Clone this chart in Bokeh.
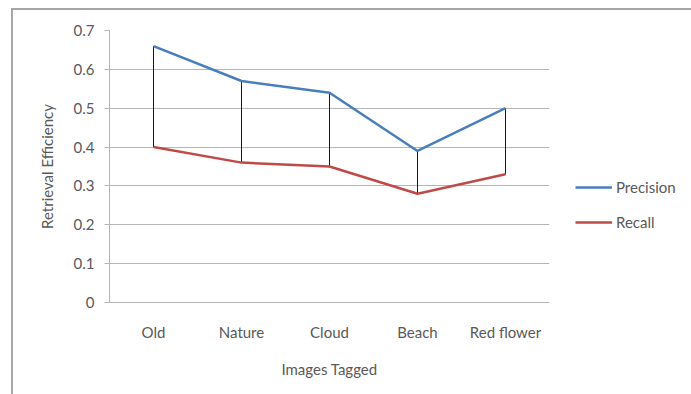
from bokeh.plotting import figure
from bokeh.models import (ColumnDataSource, FactorRange, Range1d, FixedTicker,
                          Legend, LegendItem, InlineStyleSheet)
from bokeh.embed import file_html
from bokeh.resources import INLINE

# Data
categories = ["Old", "Nature", "Cloud", "Beach", "Red flower"]
precision = [0.66, 0.57, 0.54, 0.39, 0.50]
recall = [0.40, 0.36, 0.35, 0.28, 0.33]
y_ticks = [0, 0.1, 0.2, 0.3, 0.4, 0.5, 0.6, 0.7]

FONT = "Lato"
TEXT_COLOR = "#595959"
GRID_COLOR = "#b5b5b5"
BLUE = "#4a7ebb"
RED = "#be4b48"

src = ColumnDataSource(dict(cat=categories, precision=precision, recall=recall))

# Thin grey frame around the chart area (top and left edges visible)
frame_css = InlineStyleSheet(css="""
:host { position: relative; }
:host::after {
  content: "";
  position: absolute;
  left: 11px; top: 8px; right: 0; bottom: 0;
  border-top: 2px solid #a6a6a6;
  border-left: 2px solid #a6a6a6;
  pointer-events: none;
  z-index: 10;
}
""")

p = figure(
    frame_width=440, frame_height=272,
    x_range=FactorRange(factors=categories, range_padding=0),
    y_range=Range1d(0, 0.7),
    output_backend="svg", toolbar_location=None,
    min_border_left=109, min_border_right=142,
    min_border_top=30, min_border_bottom=92,
    stylesheets=[frame_css],
)
p.outline_line_color = None
p.background_fill_color = "white"
p.border_fill_color = "white"

# High-low connectors between the two series
p.segment(x0="cat", y0="recall", x1="cat", y1="precision", source=src,
          line_color="#1a1a1a", line_width=1)

r_prec = p.line(x="cat", y="precision", source=src, line_color=BLUE, line_width=2.5)
r_rec = p.line(x="cat", y="recall", source=src, line_color=RED, line_width=2.5)

# Axes
p.yaxis.ticker = FixedTicker(ticks=y_ticks)
p.yaxis.axis_label = "Retrieval Efficiency"
p.xaxis.axis_label = "Images Tagged"
for ax in (p.xaxis, p.yaxis):
    ax.axis_line_color = GRID_COLOR
    ax.axis_line_width = 1
    ax.major_tick_line_color = GRID_COLOR
    ax.major_tick_in = 0
    ax.minor_tick_line_color = None
    ax.major_label_text_font = FONT
    ax.major_label_text_font_size = "15px"
    ax.major_label_text_color = TEXT_COLOR
    ax.axis_label_text_font = FONT
    ax.axis_label_text_font_size = "15px"
    ax.axis_label_text_font_style = "normal"
    ax.axis_label_text_color = TEXT_COLOR

p.yaxis.major_tick_out = 5
p.yaxis.major_label_standoff = 10
p.yaxis.axis_label_standoff = 15
p.xaxis.major_tick_out = 0
p.xaxis.major_label_standoff = 20
p.xaxis.axis_label_standoff = 16

p.xgrid.grid_line_color = None
p.ygrid.grid_line_color = GRID_COLOR
p.ygrid.grid_line_width = 1

# Legend in the right-hand panel
legend = Legend(
    items=[LegendItem(label="Precision", renderers=[r_prec]),
           LegendItem(label="Recall", renderers=[r_rec])],
    location=(26, 70),
    orientation="vertical",
    glyph_width=37, glyph_height=20, label_height=20,
    label_standoff=4, spacing=15, padding=0, margin=0,
    border_line_color=None, background_fill_alpha=0,
    label_text_font=FONT, label_text_font_size="15px",
    label_text_color=TEXT_COLOR,
)
p.add_layout(legend, "right")

open("out.html", "w").write(file_html(p, INLINE))
